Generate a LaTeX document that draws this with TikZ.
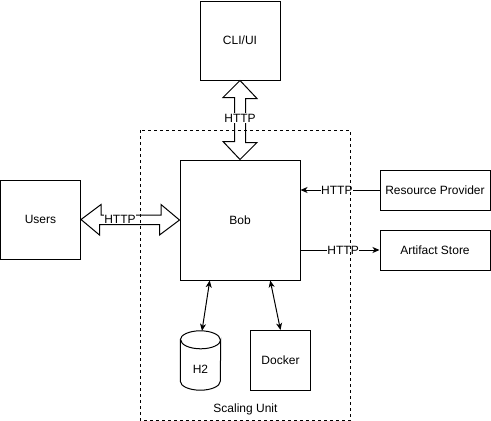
\documentclass[tikz,border=0pt]{standalone}
\usepackage{fontspec}
\setmainfont{Liberation Sans}
\usetikzlibrary{arrows.meta,calc}
\begin{document}
\begin{tikzpicture}[x=1pt,y=-1pt,
  every node/.style={font=\fontsize{12}{14}\selectfont},
  box/.style={draw,line width=1pt,inner sep=0pt,align=center},
  fat/.style={draw,line width=1pt,fill=white,line join=miter},
  lbl/.style={fill=white,inner sep=0.5pt},
  conn/.style={line width=1pt,{Stealth[length=7pt,width=6pt,inset=2pt]}-{Stealth[length=7pt,width=6pt,inset=2pt]}},
  oneway/.style={line width=1pt,-{Stealth[length=7pt,width=6pt,inset=2pt]}},
  su/.style={draw,line width=1pt,dash pattern=on 3pt off 3pt,inner sep=0pt}]
\useasboundingbox (0,0) rectangle (491,421);
\node[minimum width=210,minimum height=289.5,inner sep=0pt] (unit) at (245.5,275.25) {};
\node[anchor=south] (sulbl) at ($(unit.south)+(0,-2)$) {Scaling Unit};
\node[box,minimum width=80,minimum height=79] (cli) at (240,40.5) {CLI/UI};
\node[box,minimum width=120,minimum height=120] (bob) at (240,220) {Bob};
\node[box,minimum width=80,minimum height=79] (users) at (40.5,219.5) {Users};
\node[box,minimum width=110,minimum height=40] (rp) at (435,190) {Resource Provider};
\node[box,minimum width=110,minimum height=40] (as) at (435,250) {Artifact Store};
\node[box,minimum width=60,minimum height=60] (docker) at (280.5,360.5) {Docker};
% H2 cylinder
\node[minimum width=40,minimum height=59,inner sep=0pt] (h2) at (200.5,360.5) {};
\draw[line width=1pt,fill=white] (h2.north west) ++(0,9) -- ($(h2.south west)+(0,-9)$)
  arc[start angle=180,end angle=360,x radius=20,y radius=-9]
  -- ($(h2.north east)+(0,9)$)
  arc[start angle=0,end angle=-180,x radius=20,y radius=-9] -- cycle;
\draw[line width=1pt] ($(h2.north west)+(0,9)$) arc[start angle=180,end angle=360,x radius=20,y radius=9];
\node at ($(h2.center)+(0,9)$) {H2};
% fat arrows
\draw[fat] (cli.south) -- ++(17,18) -- ++(-11.5,0) -- ++(0,44) -- ++(11.5,0) -- (bob.north)
  -- ++(-17,-18) -- ++(11.5,0) -- ++(0,-44) -- ++(-11.5,0) -- cycle;
\node[lbl] (h1) at (240,118) {HTTP};
\draw[fat] (users.east) -- ++(20,-15) -- ++(0,10.5) -- ++(60,0) -- ++(0,-10.5) -- (bob.west)
  -- ++(-20,15) -- ++(0,-10.5) -- ++(-60,0) -- ++(0,10.5) -- cycle;
\node[lbl] (h2l) at (120,219) {HTTP};
% plain arrows
\draw[oneway] (rp.west) -- node[lbl,pos=0.54] (h3) {HTTP} (bob.east |- rp.west);
\draw[oneway] (bob.east |- as.west) -- node[lbl,pos=0.54] (h4) {HTTP} (as.west);
\draw[conn] ($(bob.south west)!0.25!(bob.south east)$) -- ($(h2.north)+(1.5,0)$);
\draw[conn] ($(bob.south west)!0.75!(bob.south east)$) -- (docker.north);
% dashed container outline drawn on top
\draw[su] (unit.north west) rectangle (unit.south east);
\end{tikzpicture}
\end{document}
